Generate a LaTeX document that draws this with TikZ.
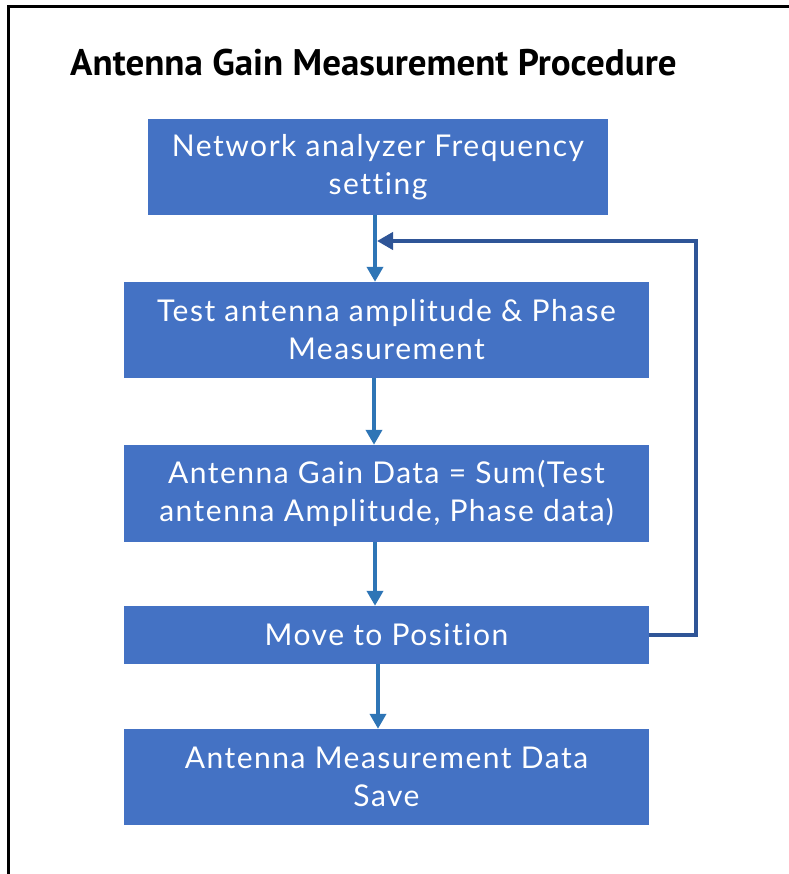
\documentclass[tikz,border=0pt]{standalone}
\usepackage{fontspec}
\setmainfont{Lato}[LetterSpace=5, RawFeature=-liga]
\newfontfamily\titlefont{PT Sans}
\usetikzlibrary{arrows.meta}
\definecolor{boxblue}{HTML}{4472C4}
\definecolor{flowblue}{HTML}{2E75B6}
\definecolor{loopblue}{HTML}{2F5597}
\tikzset{
  stepbox/.style={fill=boxblue, draw=none, text=white, inner sep=0pt, align=center,
    font=\fontsize{30}{38}\selectfont},
  flow/.style={draw=flowblue, line width=4pt, -{Triangle[length=15pt,width=16pt]}},
  loopline/.style={draw=loopblue, line width=4pt, -{Triangle[length=16pt,width=17pt]}},
}
\begin{document}
\begin{tikzpicture}[x=1pt,y=-1pt]
\useasboundingbox (0,0) rectangle (788,874);
% outer frame, open to the right and bottom
\draw[line width=3pt] (8.5,880) -- (8.5,6.5) -- (795,6.5);
% title
\node[anchor=base west, font=\titlefont\bfseries\fontsize{37}{44}\selectfont, inner sep=0pt] (title) at (70,76) {Antenna Gain Measurement Procedure};
% process steps
\node[stepbox, minimum width=460pt, minimum height=96pt] (s1) at (378,167) {Network analyzer Frequency\\setting};
\node[stepbox, minimum width=525pt, minimum height=96pt] (s2) at (386.5,330) {Test antenna amplitude \& Phase\\Measurement};
\node[stepbox, minimum width=525pt, minimum height=97pt] (s3) at (386.5,493.5) {Antenna Gain Data = Sum(Test\\antenna Amplitude, Phase data)};
\node[stepbox, minimum width=525pt, minimum height=58pt] (s4) at (386.5,635) {Move to Position};
\node[stepbox, minimum width=525pt, minimum height=96pt] (s5) at (386.5,777) {Antenna Measurement Data\\Save};
% connectors
\coordinate (j) at (375,241);
\draw[flow] (s1.south -| j) -- (s2.north -| j);
\draw[flow] (374,378) coordinate (a2) -- (a2 |- s3.north);
\draw[flow] (375,542) coordinate (a3) -- (a3 |- s4.north);
\draw[flow] (378,664) coordinate (a4) -- (a4 |- s5.north);
% loop back from "Move to Position"
\draw[loopline] (s4.east) -- (696,635) -- (696,241) -- (377,241);
\end{tikzpicture}
\end{document}
